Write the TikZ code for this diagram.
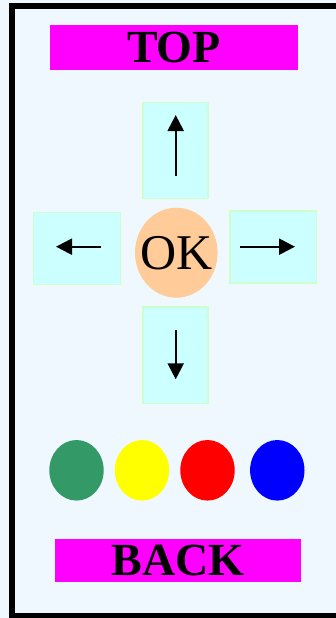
\documentclass[tikz,border=0pt]{standalone}
\usepackage{fontspec}
\setmainfont{Liberation Serif}
\usetikzlibrary{arrows.meta,shapes.geometric}
\definecolor{panelbg}{RGB}{240,248,255}
\definecolor{barpink}{RGB}{255,0,255}
\definecolor{keycyan}{RGB}{204,255,255}
\definecolor{keyedge}{RGB}{204,255,204}
\definecolor{okpeach}{RGB}{255,204,153}
\definecolor{btngreen}{RGB}{51,153,102}
\definecolor{btnyellow}{RGB}{255,255,0}
\definecolor{btnred}{RGB}{255,0,0}
\definecolor{btnblue}{RGB}{0,0,255}
\begin{document}
\begin{tikzpicture}[x=1pt, y=-1pt,
    keybox/.style={rectangle, fill=keycyan, draw=keyedge, line width=1.5pt, inner sep=0pt},
    labelbar/.style={rectangle, fill=barpink, inner sep=0pt, font=\fontsize{46}{46}\selectfont\bfseries},
    arr/.style={line width=2.2pt, -{Triangle[length=16pt, width=16pt]}},
    colorbtn/.style={ellipse, minimum width=54.4pt, minimum height=60.6pt, inner sep=0pt}]
    \useasboundingbox (0,0) rectangle (336,618);
    \fill[panelbg] (0,0) rectangle (336,618);
    \clip (0,0) rectangle (336,618);
    \draw[line width=5.7pt] (12.2,6.2) rectangle (350,616.2);

    % title bars
    \node[labelbar, minimum width=248pt, minimum height=45pt] (top) at (174,47.5) {TOP};
    \node[labelbar, minimum width=246pt, minimum height=43pt] (back) at (178,560.5) {BACK};

    % direction keys
    \node[keybox, minimum width=65pt, minimum height=96pt] (up) at (175.7,150.5) {};
    \node[keybox, minimum width=87pt, minimum height=72pt] (left) at (77,248.3) {};
    \node[keybox, minimum width=86.5pt, minimum height=72pt] (right) at (273.3,247.2) {};
    \node[keybox, minimum width=65pt, minimum height=96.5pt] (down) at (175.7,355.2) {};

    \node[ellipse, fill=okpeach, inner sep=0pt, minimum width=82.6pt, minimum height=90pt] (ok) at (176.3,252.7) {};
    \node[font=\fontsize{50}{50}\selectfont, inner sep=0pt] (oktext) at (ok.center) {OK};

    \coordinate (upA) at (175.7,176);   \coordinate (upB) at (175.7,115);
    \coordinate (downA) at (175.7,330); \coordinate (downB) at (175.7,379.3);
    \coordinate (leftA) at (100.7,246.7); \coordinate (leftB) at (56,246.7);
    \coordinate (rightA) at (240,246.7);  \coordinate (rightB) at (295,246.7);
    \foreach \k in {up,down,left,right}
        \draw[arr] (\k A) -- (\k B);

    % colour buttons
    \foreach \c/\x in {btngreen/76.5, btnyellow/142, btnred/207.5, btnblue/277.3}
        \node[colorbtn, fill=\c] (\c) at (\x,470.3) {};
\end{tikzpicture}
\end{document}
